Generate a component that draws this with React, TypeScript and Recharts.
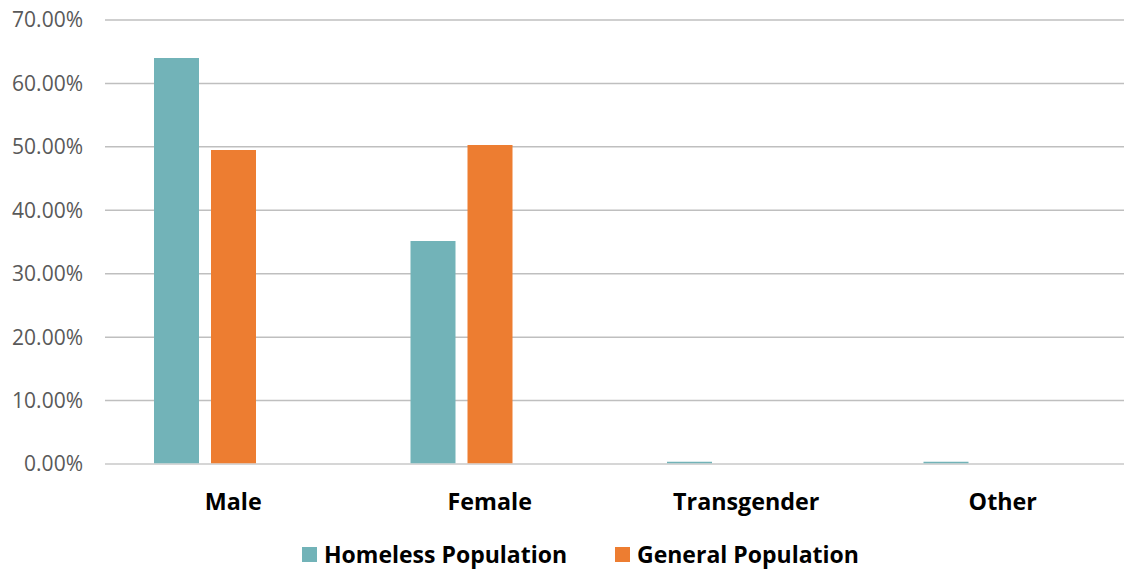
import { Bar, BarChart, CartesianGrid, Legend, XAxis, YAxis } from "recharts";

// Gender split: homeless population vs. general population (percent).
// The source chart carries a third, empty series which shifts the visible
// pair left of each category label; it is kept here for the same layout.

const categories = ["Male", "Female", "Transgender", "Other"];
const homeless = [64.0, 35.15, 0.35, 0.35];
const general = [49.5, 50.3, 0, 0];
const emptySeries = [0, 0, 0, 0];
const yTicks = [0, 10, 20, 30, 40, 50, 60, 70];

const TEAL = "#72B3B8";
const ORANGE = "#ED7D31";
const FONT = "'Open Sans', 'Liberation Sans', sans-serif";

const data = categories.map((name, i) => ({
    name,
    homeless: homeless[i],
    general: general[i],
    blank: emptySeries[i],
}));

function LegendContent() {
    const items = [
        { label: "Homeless Population", color: TEAL, left: 302 },
        { label: "General Population", color: ORANGE, left: 615 },
    ];
    return (
        <div style={{ position: "relative", height: 24 }}>
            {items.map((it) => (
                <div
                    key={it.label}
                    style={{
                        position: "absolute",
                        left: it.left,
                        top: 0,
                        height: 24,
                        lineHeight: "24px",
                        display: "flex",
                        alignItems: "center",
                        fontFamily: FONT,
                        fontWeight: 700,
                        fontSize: 23,
                        color: "#000",
                        whiteSpace: "nowrap",
                    }}
                >
                    <span
                        style={{
                            display: "inline-block",
                            width: 15,
                            height: 15,
                            background: it.color,
                            marginRight: 7,
                        }}
                    />
                    {it.label}
                </div>
            ))}
        </div>
    );
}

export default function App() {
    return (
        <div
            style={{
                position: "absolute",
                left: 0,
                top: 0,
                width: 1124,
                height: 571,
                overflow: "hidden",
                background: "#fff",
            }}
        >
            <BarChart
                width={1131}
                height={571}
                data={data}
                margin={{ top: 20, right: 0, bottom: 0, left: 0 }}
                barSize={45}
                barGap={12}
            >
                <CartesianGrid stroke="#BFBFBF" strokeWidth={1.5} vertical={false} />
                <XAxis
                    dataKey="name"
                    height={83}
                    axisLine={{ stroke: "#D9D9D9", strokeWidth: 1.5 }}
                    tickLine={false}
                    tickMargin={23}
                    interval={0}
                    tick={{ fontFamily: FONT, fontWeight: 700, fontSize: 23.3, fill: "#000" }}
                />
                <YAxis
                    width={105}
                    domain={[0, 70]}
                    ticks={yTicks}
                    axisLine={false}
                    tickLine={false}
                    tickSize={0}
                    tickMargin={22}
                    tick={{ fontFamily: FONT, fontSize: 21, fill: "#595959" }}
                    tickFormatter={(v: number) => `${v.toFixed(2)}%`}
                />
                <Legend
                    verticalAlign="bottom"
                    content={() => <LegendContent />}
                    wrapperStyle={{ left: 0, top: 542, width: 1124 }}
                />
                <Bar dataKey="homeless" name="Homeless Population" fill={TEAL} isAnimationActive={false} />
                <Bar dataKey="general" name="General Population" fill={ORANGE} isAnimationActive={false} />
                <Bar dataKey="blank" legendType="none" fill="none" isAnimationActive={false} />
            </BarChart>
        </div>
    );
}
